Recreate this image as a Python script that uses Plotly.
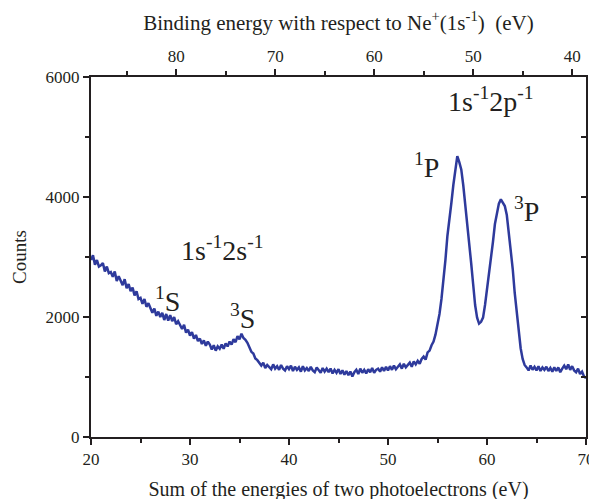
import plotly.graph_objects as go

# sum of the two photoelectron energies (eV), 0.2 eV steps from 20 to 70
energy = [round(20 + 0.2 * i, 1) for i in range(251)]

counts = [
    2950, 3030, 2870, 2950, 2840,
    2860, 2900, 2760, 2840, 2730,
    2750, 2670, 2760, 2600, 2680,
    2610, 2530, 2630, 2480, 2550,
    2430, 2490, 2360, 2430, 2300,
    2320, 2220, 2300, 2170, 2230,
    2160, 2070, 2140, 2020, 2090,
    2000, 2070, 1950, 2050, 1940,
    2030, 1930, 2000, 1880, 1930,
    1870, 1800, 1870, 1740, 1790,
    1690, 1750, 1640, 1700, 1600,
    1640, 1550, 1610, 1520, 1590,
    1540, 1460, 1530, 1440, 1510,
    1470, 1540, 1470, 1560, 1510,
    1590, 1540, 1630, 1580, 1680,
    1630, 1720, 1650, 1620, 1570,
    1490, 1420, 1390, 1310, 1280,
    1230, 1190, 1240, 1150, 1200,
    1170, 1130, 1210, 1140, 1180,
    1120, 1200, 1140, 1110, 1180,
    1130, 1190, 1100, 1170, 1120,
    1160, 1090, 1180, 1110, 1150,
    1100, 1170, 1110, 1080, 1160,
    1110, 1070, 1150, 1090, 1140,
    1080, 1140, 1060, 1120, 1070,
    1130, 1050, 1110, 1040, 1100,
    1030, 1090, 1010, 1080, 1120,
    1050, 1140, 1070, 1120, 1060,
    1130, 1080, 1150, 1070, 1120,
    1140, 1090, 1160, 1100, 1170,
    1110, 1180, 1120, 1190, 1130,
    1170, 1210, 1140, 1220, 1160,
    1200, 1240, 1170, 1260, 1210,
    1270, 1220, 1300, 1340, 1290,
    1410, 1440, 1530, 1590, 1710,
    1880, 2050, 2300, 2600, 2950,
    3350, 3600, 3900, 4200, 4450,
    4680, 4580, 4460, 4200, 3900,
    3600, 3250, 2900, 2550, 2200,
    1990, 1890, 1920, 1990, 2200,
    2450, 2700, 2950, 3250, 3550,
    3750, 3890, 3960, 3910, 3850,
    3700, 3420, 3100, 2800, 2400,
    2050, 1750, 1480, 1300, 1200,
    1160, 1110, 1190, 1120, 1170,
    1110, 1180, 1100, 1160, 1120,
    1170, 1100, 1150, 1090, 1160,
    1100, 1160, 1080, 1140, 1190,
    1130, 1210, 1120, 1180, 1110,
    1080, 1140, 1050, 1090, 1010,
    980,
]

# binding energy with respect to Ne+(1s^-1) = offset - sum energy
binding_offset = 108.6
binding_ticks = [80, 70, 60, 50, 40]

labels = ["1s<sup>-1</sup>2p<sup>-1</sup>", "<sup>1</sup>P", "<sup>3</sup>P",
          "1s<sup>-1</sup>2s<sup>-1</sup>", "<sup>1</sup>S", "<sup>3</sup>S"]
label_x = [60.4, 53.9, 64.0, 33.2, 27.7, 35.3]
label_y = [5620, 4520, 3800, 3150, 2290, 2010]

serif = "Liberation Serif"
ink = "#231f20"

fig = go.Figure()
fig.add_trace(go.Scatter(x=energy, y=counts, mode="lines",
                         line=dict(color="#2e3a9c", width=2.5), showlegend=False))
# helper traces so the top and right axes get drawn
fig.add_trace(go.Scatter(x=[binding_offset - 20], y=[0], xaxis="x2", yaxis="y",
                         mode="markers", marker=dict(opacity=0), showlegend=False,
                         hoverinfo="skip"))
fig.add_trace(go.Scatter(x=[20], y=[0], xaxis="x", yaxis="y2",
                         mode="markers", marker=dict(opacity=0), showlegend=False,
                         hoverinfo="skip"))

for t, x, y in zip(labels, label_x, label_y):
    fig.add_annotation(x=x, y=y, text=t, showarrow=False,
                       font=dict(family=serif, size=28, color=ink))

axis_common = dict(showgrid=False, zeroline=False, showline=True, linecolor=ink,
                   linewidth=2, tickcolor=ink, tickwidth=1.5, automargin=False,
                   tickfont=dict(family=serif, size=17, color=ink))

# page body adds an 8px offset, margins are set so the plot lands in place
fig.update_layout(
    width=597, height=499,
    margin=dict(l=83, r=19, t=69, b=70),
    plot_bgcolor="white", paper_bgcolor="white",
    xaxis=dict(range=[20, 70], dtick=10, ticks="outside", ticklen=6,
               minor=dict(dtick=5, ticks="outside", ticklen=4, tickcolor=ink),
               title=dict(text="Sum of the energies of two photoelectrons (eV)",
                          font=dict(family=serif, size=20, color=ink), standoff=14),
               **axis_common),
    xaxis2=dict(range=[binding_offset - 20, binding_offset - 70], overlaying="x",
                side="top", tickvals=binding_ticks, ticks="outside", ticklen=6,
                minor=dict(dtick=5, ticks="outside", ticklen=4, tickcolor=ink),
                title=dict(text="Binding energy with respect to Ne<sup>+</sup>(1s<sup>-1</sup>)  (eV)",
                           font=dict(family=serif, size=21, color=ink), standoff=14),
                **axis_common),
    yaxis=dict(range=[0, 6000], dtick=2000, ticks="outside", ticklen=6,
               minor=dict(dtick=1000, ticks="outside", ticklen=4, tickcolor=ink),
               title=dict(text="Counts", font=dict(family=serif, size=19, color=ink),
                          standoff=14),
               **axis_common),
    yaxis2=dict(range=[0, 6000], overlaying="y", side="right", dtick=1000,
                ticks="inside", ticklen=5, showticklabels=False, **axis_common),
)

fig.write_html("out.html")
